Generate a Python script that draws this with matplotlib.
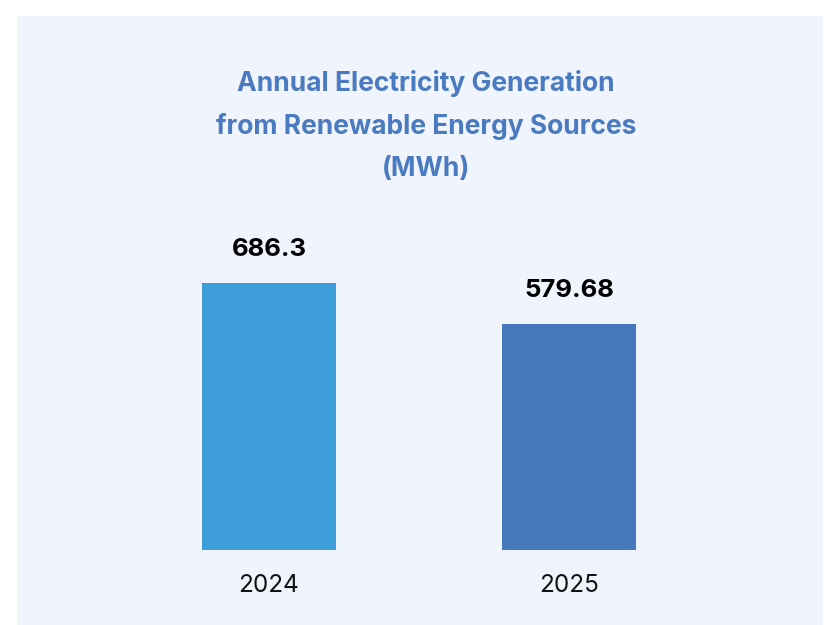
import matplotlib
matplotlib.use('Agg')
import matplotlib.pyplot as plt
from matplotlib.patches import Rectangle

# Annual generation figures
years = ['2024', '2025']
generation_mwh = [686.3, 579.68]
value_labels = ['686.3', '579.68']
bar_colors = ['#3d9dd9', '#4679bb']
title = 'Annual Electricity Generation\nfrom Renewable Energy Sources\n(MWh)'

plt.rcParams['font.family'] = ['Inter', 'DejaVu Sans']

W, H = 824, 625
fig = plt.figure(figsize=(W / 100, H / 100), dpi=100)
fig.patch.set_facecolor('white')

# light panel behind the chart
fig.patches.append(Rectangle((17 / W, 0), (823 - 17) / W, (H - 16) / H,
                             transform=fig.transFigure, facecolor='#f0f4fc',
                             edgecolor='none', zorder=0))

# axes: baseline at y=550px, one category every 300px
ax_bottom = (H - 550) / H
ax_height = 350 / H
ax = fig.add_axes([17 / W, ax_bottom, 806 / W, ax_height])
ax.set_facecolor('none')
ax.set_zorder(2)

x = range(len(years))
ax.bar(x, generation_mwh, width=0.447, color=bar_colors)
ax.set_xlim(-0.84, -0.84 + 806 / 300)
ax.set_ylim(0, max(generation_mwh) * 350 / 267)

for xi, v, lab in zip(x, generation_mwh, value_labels):
    ax.annotate(lab, (xi, v), xytext=(0, 16), textcoords='offset points',
                ha='center', va='bottom', fontsize=18.5, fontweight='bold',
                color='black')

ax.set_xticks(list(x))
ax.set_xticklabels(years, fontsize=17.5, color='#111111')
ax.tick_params(axis='x', length=0, pad=17)
ax.set_yticks([])
for s in ax.spines.values():
    s.set_visible(False)

fig.text(426 / W, 1 - 126 / H, title, ha='center', va='center',
         fontsize=19, fontweight='bold', color='#4a7bc0', linespacing=1.8,
         zorder=3)

fig.savefig('out.png', dpi=100)
